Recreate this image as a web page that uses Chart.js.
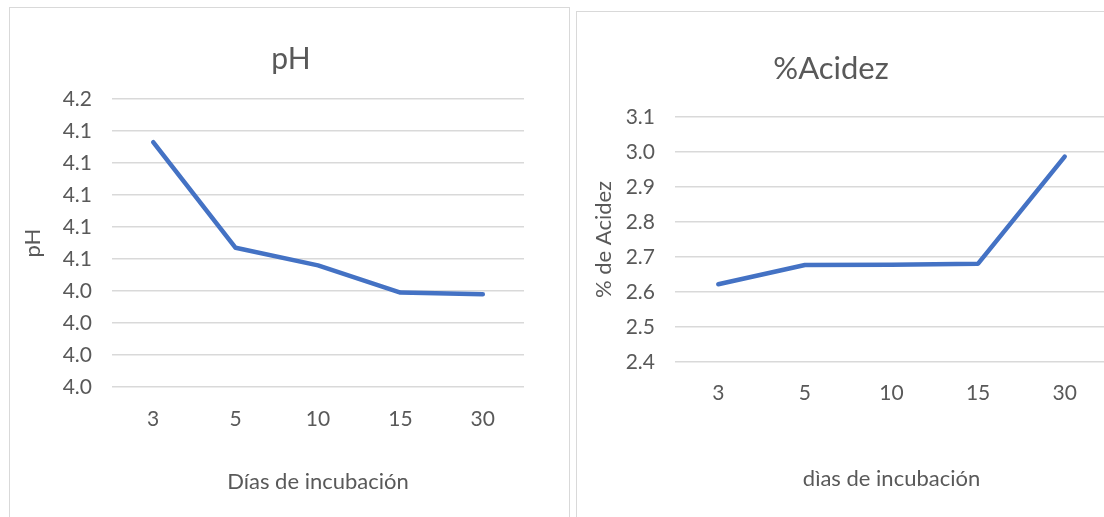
<!DOCTYPE html>
<html>
<head>
<meta charset="utf-8">
<script src="https://cdn.jsdelivr.net/npm/chart.js@4.4.0/dist/chart.umd.min.js"></script>
<style>
    html, body { margin: 0; padding: 0; background: #fff; overflow: hidden; }
    body { width: 1104px; height: 517px; position: relative; }
    .panel { position: absolute; border: 1px solid #d9d9d9; box-sizing: border-box; }
    #panel-ph { left: 9px; top: 7px; width: 561px; height: 540px; }
    #panel-acidez { left: 576px; top: 11px; width: 560px; height: 540px; }
    canvas { position: absolute; }
    #chart-ph { left: 10px; top: 8px; }
    #chart-acidez { left: 554px; top: 12px; }
</style>
</head>
<body>
<div class="panel" id="panel-ph"></div>
<div class="panel" id="panel-acidez"></div>
<canvas id="chart-ph" width="562" height="509"></canvas>
<canvas id="chart-acidez" width="554" height="505"></canvas>

<script>
// data
const days = ['3', '5', '10', '15', '30'];
const phValues = [4.133, 4.067, 4.056, 4.039, 4.038];
const acidezValues = [2.622, 2.677, 2.678, 2.681, 2.987];

// y axis ranges (labels are shown with one decimal, as in the original)
const phMin = 3.98, phMax = 4.16, phStep = 0.02;
const acidezMin = 2.4, acidezMax = 3.1, acidezStep = 0.1;

const FONT = 'Lato';
const TEXT = '#595959';
const GRID = '#d9d9d9';
const LINE = '#4472c4';

function makeLineChart(canvasId, opts) {
    const ctx = document.getElementById(canvasId).getContext('2d');

    const scales = {
        x: {
            offset: true,
            grid: { display: false, drawTicks: false },
            border: { display: false },
            ticks: {
                color: TEXT,
                font: { family: FONT, size: 21 },
                padding: opts.xTickPad,
                maxRotation: 0
            },
            title: {
                display: true,
                text: opts.xTitle,
                color: TEXT,
                font: { family: FONT, size: 22 },
                padding: { top: 0, bottom: opts.xTitlePad }
            },
            afterFit: (scale) => { scale.height = opts.xHeight; }
        },
        y: {
            min: opts.min,
            max: opts.max,
            ticks: {
                stepSize: opts.step,
                color: TEXT,
                font: { family: FONT, size: 21 },
                padding: 20,
                callback: (v) => Number(v).toFixed(1)
            },
            grid: { color: GRID, lineWidth: 1.5, drawTicks: false },
            border: { display: false },
            title: {
                display: true,
                text: opts.yTitle,
                color: TEXT,
                font: { family: FONT, size: 22 },
                padding: { top: opts.yTitlePad, bottom: 0 }
            },
            afterFit: (scale) => { scale.width = opts.yWidth; }
        }
    };

    // empty box on the right so the plot stops short of the frame
    if (opts.rightGap) {
        scales.gap = {
            type: 'linear',
            position: 'right',
            ticks: { display: false },
            grid: { display: false, drawTicks: false },
            border: { display: false },
            afterFit: (scale) => { scale.width = opts.rightGap; }
        };
    }

    return new Chart(ctx, {
        type: 'line',
        data: {
            labels: days,
            datasets: [{
                data: opts.values,
                borderColor: LINE,
                backgroundColor: LINE,
                borderWidth: 4.5,
                borderCapStyle: 'round',
                borderJoinStyle: 'round',
                pointRadius: 0,
                tension: 0,
                fill: false
            }]
        },
        options: {
            responsive: false,
            animation: false,
            devicePixelRatio: 1,
            layout: { padding: { left: 0, right: 0, top: 0, bottom: opts.padBottom } },
            plugins: {
                legend: { display: false },
                tooltip: { enabled: false },
                title: {
                    display: true,
                    text: opts.title,
                    color: TEXT,
                    font: { family: FONT, size: opts.titleSize, weight: 'normal' },
                    padding: { top: opts.titleTop, bottom: opts.titleBottom }
                }
            },
            scales: scales
        }
    });
}

makeLineChart('chart-ph', {
    values: phValues,
    min: phMin, max: phMax, step: phStep,
    title: 'pH',
    yTitle: 'pH',
    xTitle: 'Días de incubación',
    titleSize: 30, titleTop: 33.5, titleBottom: 21.5,
    yWidth: 102, yTitlePad: 9.8,
    xHeight: 120, xTickPad: 19.8, xTitlePad: 11.8,
    padBottom: 10,
    rightGap: 48
});

makeLineChart('chart-acidez', {
    values: acidezValues,
    min: acidezMin, max: acidezMax, step: acidezStep,
    title: '%Acidez',
    yTitle: '% de Acidez',
    xTitle: 'dìas de incubación',
    titleSize: 31, titleTop: 37.9, titleBottom: 29.9,
    yWidth: 121, yTitlePad: 36.8,
    xHeight: 140, xTickPad: 18.8, xTitlePad: 9.8,
    padBottom: 15
});
</script>
</body>
</html>
